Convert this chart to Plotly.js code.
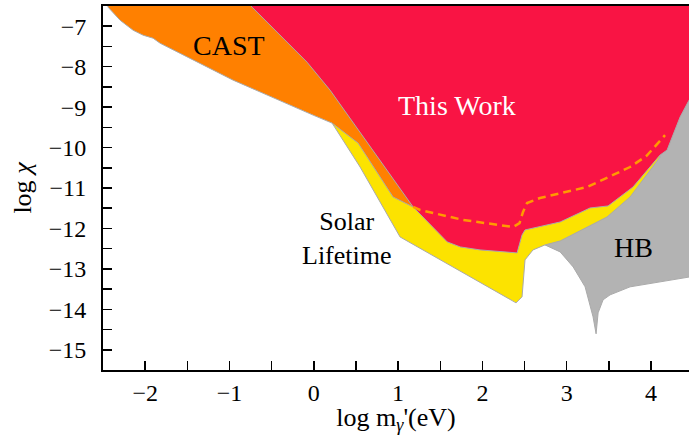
<!DOCTYPE html>
<html>
<head>
<meta charset="utf-8">
<script src="https://cdn.plot.ly/plotly-3.0.1.min.js"></script>
<style>html,body{margin:0;padding:0;background:#fff;}#chart{width:689px;height:435px;}</style>
</head>
<body>
<div id="chart"></div>
<script>
// Region boundaries (log m [eV], log chi)
const hbX = [2.742, 2.922, 3.076, 3.218, 3.312, 3.348, 3.372, 3.431, 3.514, 3.751, 4.107, 4.451, 4.6, 4.6, 3.9];
const hbY = [-12.407, -12.58, -12.951, -13.444, -14.185, -14.605, -14.086, -13.765, -13.642, -13.444, -13.321, -13.198, -13.15, -8.0, -9.5];

const solarX = [0.217, 0.549, 1.023, 2.399, 2.47, 2.505, 2.60, 2.742, 2.922, 3.478, 3.751, 4.107, 3.87, 1.025];
const solarY = [-9.395, -10.481, -12.21, -13.84, -13.69, -12.778, -12.531, -12.407, -12.309, -11.716, -11.222, -10.235, -9.07, -9.32];

const castX = [-2.47, -2.439, -2.297, -2.143, -2.024, -1.906, -1.823, -0.957, -0.008, 0.217, 0.525, 0.940, 1.178, 2.2, -2.6];
const castY = [-6.3, -6.531, -6.852, -7.099, -7.222, -7.296, -7.420, -8.333, -9.198, -9.395, -9.889, -11.222, -11.469, -6.3, -6.3];

const workX = [-0.824, -0.731, -0.080, 0.193, 1.178, 1.583, 1.737, 1.972, 2.411, 2.47, 2.505, 2.648, 2.922, 3.276, 3.490, 3.786, 4.107, 4.190, 4.344, 4.451, 4.581, 4.6, 4.6];
const workY = [-6.3, -6.531, -7.889, -8.580, -11.469, -12.333, -12.457, -12.531, -12.605, -12.16, -12.037, -11.963, -11.84, -11.494, -11.444, -10.975, -10.185, -10.062, -9.247, -8.827, -8.333, -8.3, -6.3];

const dashX = [1.178, 1.261, 1.771, 2.364, 2.44, 2.48, 2.529, 2.683, 3.243, 3.751, 3.95, 4.166];
const dashY = [-11.469, -11.543, -11.79, -11.963, -11.87, -11.6, -11.37, -11.247, -10.975, -10.481, -10.2, -9.691];

// Labels
const labels = ["CAST", "This Work", "Solar<br>Lifetime", "HB"];
const labelX = [-1.0, 1.70, 0.395, 3.786];
const labelY = [-7.47, -8.95, -12.25, -12.46];
const labelColors = ['#000', '#fff', '#000', '#000'];
const labelSizes = [28, 28, 26, 28];

const outline = {color: '#aaaaaa', width: 1};
const traces = [
  {x: hbX, y: hbY, fill: 'toself', fillcolor: '#b3b3b3', mode: 'lines', line: outline, hoverinfo: 'skip'},
  {x: solarX, y: solarY, fill: 'toself', fillcolor: '#fce300', mode: 'lines', line: outline, hoverinfo: 'skip'},
  {x: castX, y: castY, fill: 'toself', fillcolor: '#ff8000', mode: 'lines', line: outline, hoverinfo: 'skip'},
  {x: workX, y: workY, fill: 'toself', fillcolor: '#f91444', mode: 'lines', line: outline, hoverinfo: 'skip'},
  {x: dashX, y: dashY, mode: 'lines', line: {color: '#ff9a00', width: 2.5, dash: '8px,5px'}, hoverinfo: 'skip'}
];

const fontFam = '"Liberation Serif", "Times New Roman", serif';
const annotations = labels.map((t, i) => ({
  x: labelX[i], y: labelY[i], xref: 'x', yref: 'y', text: t, showarrow: false,
  xanchor: 'center', yanchor: 'middle', align: 'center',
  font: {family: fontFam, size: labelSizes[i], color: labelColors[i]}
}));

function axisCommon() {
  return {
    showgrid: false, zeroline: false, showline: true, linecolor: '#000', linewidth: 2,
    ticks: 'inside', ticklen: 9, tickwidth: 1.5, tickcolor: '#000', dtick: 1, tick0: 0,
    minor: {dtick: 0.5, ticks: 'inside', ticklen: 9, tickwidth: 1.5, tickcolor: '#000'},
    tickfont: {family: fontFam, size: 24, color: '#000'}
  };
}

const layout = {
  width: 689, height: 435,
  margin: {l: 103, r: 0, t: 6, b: 65},
  paper_bgcolor: '#fff', plot_bgcolor: '#fff',
  font: {family: fontFam, size: 24, color: '#000'},
  showlegend: false,
  xaxis: Object.assign(axisCommon(), {
    range: [-2.5, 4.45], mirror: true, ticklabelstandoff: 0,
    title: {text: "log m<sub><i>γ</i></sub>'(eV)", font: {family: fontFam, size: 26, color: '#000'}, standoff: 0}
  }),
  yaxis: Object.assign(axisCommon(), {
    range: [-15.5, -6.5], ticklabelstandoff: 10,
    title: {text: 'log <i>χ</i>', font: {family: fontFam, size: 26, color: '#000'}, standoff: 10}
  }),
  annotations: annotations
};

Plotly.newPlot('chart', traces, layout, {staticPlot: true, displayModeBar: false});
</script>
</body>
</html>
